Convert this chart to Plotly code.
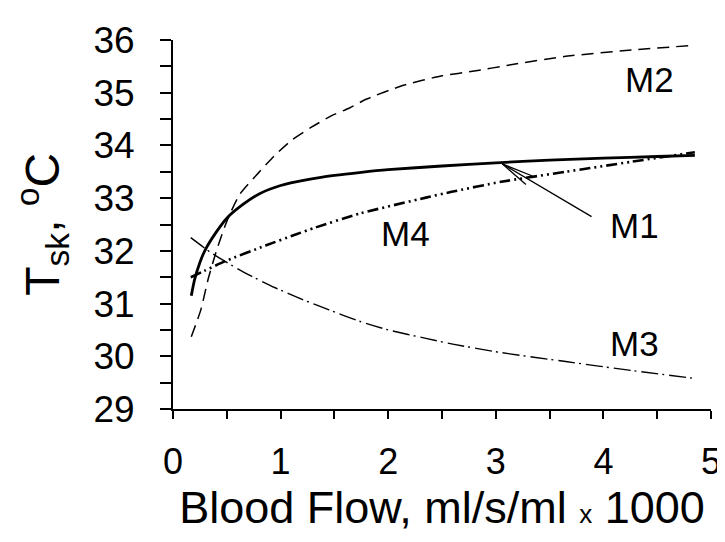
import plotly.graph_objects as go

# Skin temperature vs blood flow, four models
m1_flow = [0.17, 0.2, 0.25, 0.3, 0.4, 0.5, 0.65, 0.8, 1.0, 1.25, 1.5, 1.75, 2.0, 2.5, 3.0, 3.5, 4.0, 4.5, 4.85]
m1_tsk = [31.15, 31.45, 31.78, 32.02, 32.35, 32.62, 32.88, 33.08, 33.24, 33.35, 33.43, 33.49, 33.54, 33.61, 33.67, 33.72, 33.76, 33.79, 33.81]

m2_flow = [0.17, 0.22, 0.26, 0.33, 0.41, 0.5, 0.62, 0.79, 0.94, 1.11, 1.29, 1.47, 1.64, 1.8, 2.14, 2.5, 2.8, 3.14, 3.65, 4.26, 4.85]
m2_tsk = [30.37, 30.65, 30.89, 31.49, 32.04, 32.56, 33.07, 33.47, 33.80, 34.11, 34.35, 34.56, 34.71, 34.88, 35.14, 35.32, 35.41, 35.53, 35.69, 35.81, 35.90]

m3_flow = [0.165, 0.35, 0.5, 0.7, 0.95, 1.2, 1.45, 1.74, 2.0, 2.35, 2.6, 3.05, 3.65, 4.26, 4.85]
m3_tsk = [32.25, 31.97, 31.78, 31.55, 31.30, 31.08, 30.88, 30.66, 30.50, 30.34, 30.23, 30.07, 29.90, 29.73, 29.58]

m4_flow = [0.165, 0.29, 0.48, 0.86, 1.14, 1.32, 1.74, 2.35, 2.59, 3.05, 3.65, 4.26, 4.85]
m4_tsk = [31.50, 31.62, 31.80, 32.10, 32.31, 32.44, 32.71, 33.01, 33.12, 33.31, 33.50, 33.69, 33.87]

# label positions (data coords)
labels = ['M1', 'M2', 'M3', 'M4']
label_x = [4.29, 4.43, 4.29, 2.16]
label_y = [32.48, 35.25, 30.24, 32.32]

# arrow pointing from M1 label to the solid curve
arrow_tip = (3.06, 33.65)
arrow_tail = (3.89, 32.65)
arrow_barbs = [(3.34, 33.42), (3.28, 33.26)]

FONT = "Arial, Liberation Sans, sans-serif"

fig = go.Figure()

fig.add_trace(go.Scatter(x=m2_flow, y=m2_tsk, mode='lines',
                         line=dict(color='black', width=1.5, dash='12px,7px', shape='spline', smoothing=0.6)))
fig.add_trace(go.Scatter(x=m3_flow, y=m3_tsk, mode='lines',
                         line=dict(color='black', width=1.4, dash='17px,4px,2px,5px', shape='spline', smoothing=0.6)))
fig.add_trace(go.Scatter(x=m4_flow, y=m4_tsk, mode='lines',
                         line=dict(color='black', width=2.6, dash='11px,4px,2px,4px,2px,4px', shape='spline', smoothing=0.6)))
fig.add_trace(go.Scatter(x=m1_flow, y=m1_tsk, mode='lines',
                         line=dict(color='black', width=2.8, shape='spline', smoothing=0.6)))

for name, lx, ly in zip(labels, label_x, label_y):
    fig.add_annotation(x=lx, y=ly, text=name, showarrow=False,
                       font=dict(family=FONT, size=35, color='black'))

# arrow shaft + open head
fig.add_shape(type='line', x0=arrow_tail[0], y0=arrow_tail[1], x1=arrow_tip[0], y1=arrow_tip[1],
              line=dict(color='black', width=1.3))
for bx, by in arrow_barbs:
    fig.add_shape(type='line', x0=arrow_tip[0], y0=arrow_tip[1], x1=bx, y1=by,
                  line=dict(color='black', width=1.3))

# y-axis title placed by hand (axis title gets clamped inside the margin)
fig.add_annotation(xref='paper', yref='paper', x=-0.243, y=0.5,
                   xanchor='center', yanchor='middle', textangle=-90, showarrow=False,
                   text="T<sub>sk</sub>, <sup>o</sup>C",
                   font=dict(family=FONT, size=48, color='black'))

fig.update_layout(
    width=725, height=542, autosize=False,
    margin=dict(l=165, r=13, t=16, b=141),
    paper_bgcolor='white', plot_bgcolor='white',
    showlegend=False,
    font=dict(family=FONT, color='black'),
)

fig.update_xaxes(
    range=[0, 5], dtick=1, tick0=0,
    showline=True, linecolor='black', linewidth=2,
    ticks='outside', ticklen=8, tickwidth=2, tickcolor='black',
    minor=dict(dtick=0.5, ticks='outside', ticklen=8, tickwidth=2, tickcolor='black'),
    showgrid=False, zeroline=False,
    tickfont=dict(size=36), ticklabelstandoff=12, ticklabeloverflow='allow',
    title=dict(text="Blood Flow, ml/s/ml <span style='font-size:26px'>x</span> 1000",
               font=dict(size=45), standoff=2),
)
fig.update_yaxes(
    range=[29, 36], dtick=1, tick0=29,
    showline=True, linecolor='black', linewidth=2,
    ticks='outside', ticklen=11, tickwidth=2, tickcolor='black',
    minor=dict(dtick=0.5, ticks='outside', ticklen=11, tickwidth=2, tickcolor='black'),
    showgrid=False, zeroline=False,
    tickfont=dict(size=37), ticklabelstandoff=18, ticklabeloverflow='allow',
)

fig.write_html("out.html")
